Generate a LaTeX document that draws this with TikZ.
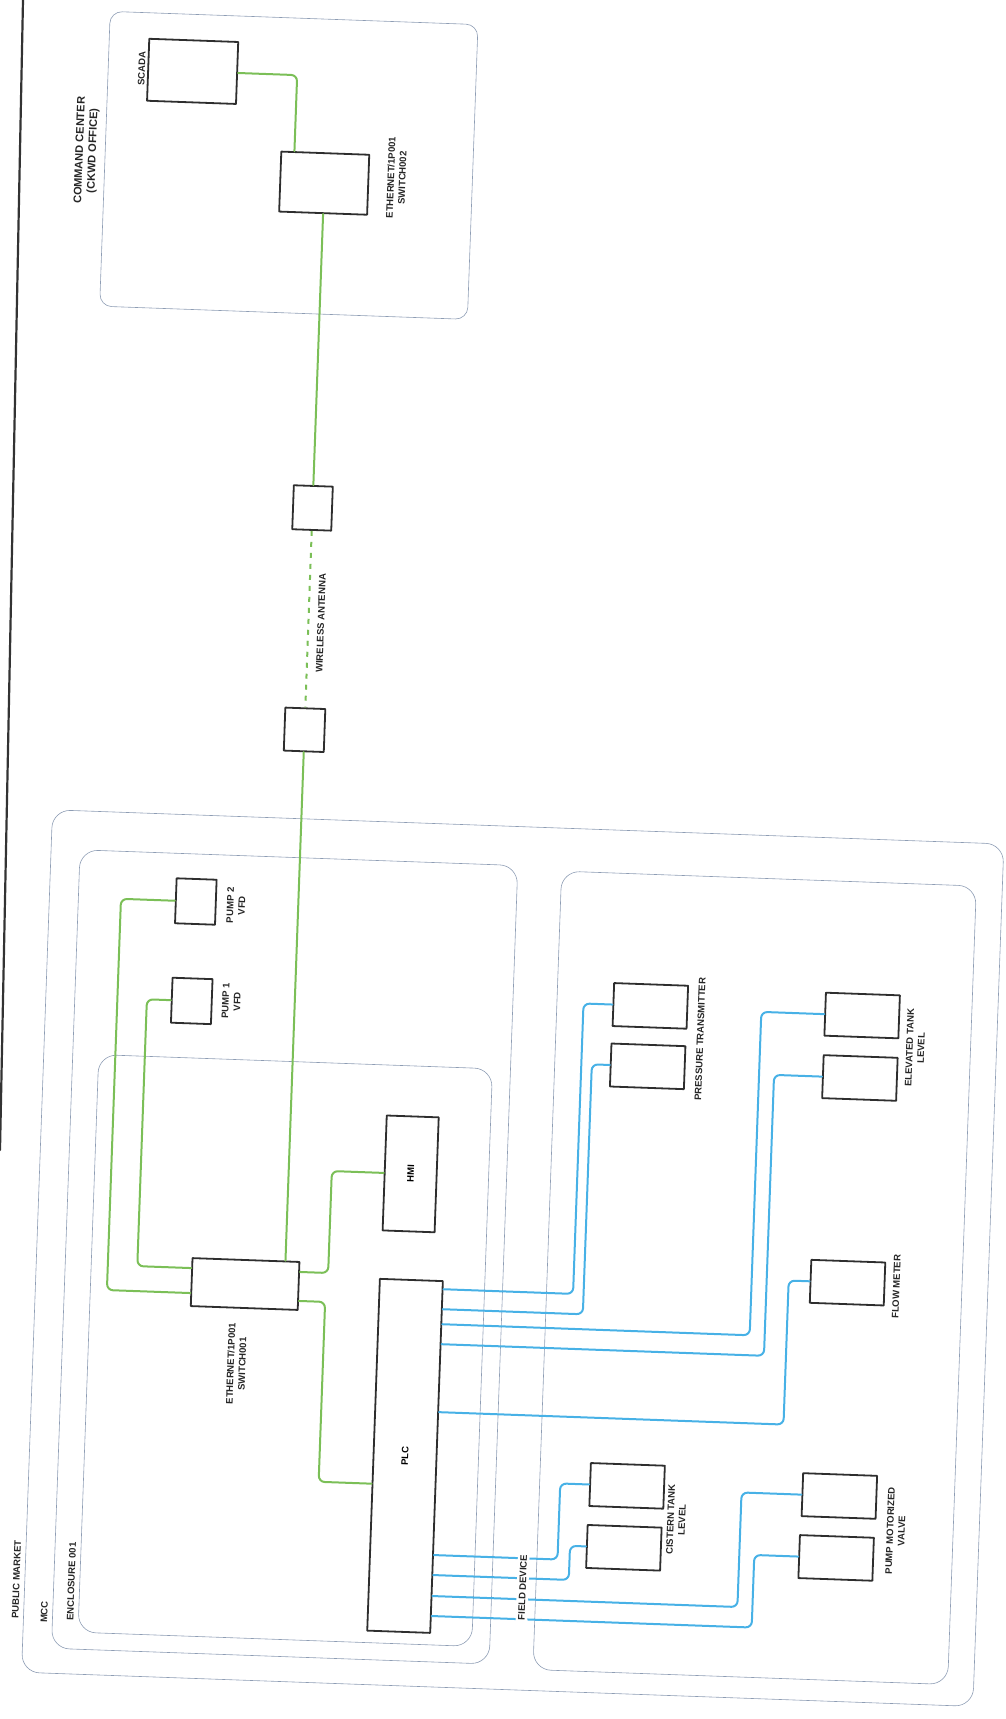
\documentclass[tikz,border=0pt]{standalone}
\usepackage{fontspec}
\setsansfont{Liberation Sans}

\definecolor{devgray}{HTML}{2E2E2E}
\definecolor{zonegray}{HTML}{8E9DB4}
\definecolor{ethgreen}{HTML}{7BBF57}
\definecolor{ioblue}{HTML}{47B1E6}

\begin{document}
\begin{tikzpicture}[x=1pt, y=-1pt, line cap=round, line join=round,
  dev/.style={draw=devgray, line width=1.8pt, minimum width=74pt, minimum height=43pt,
    inner sep=0pt, font=\sffamily\bfseries\fontsize{9.5}{11.5}\selectfont},
  lbl/.style={rotate=90, align=center, inner sep=0pt, text=black!85,
    font=\sffamily\bfseries\fontsize{9.5}{11.5}\selectfont},
  zone/.style={draw=zonegray, line width=0.6pt, rounded corners=18pt},
  eth/.style={draw=ethgreen, line width=2pt, rounded corners=6pt},
  io/.style={draw=ioblue, line width=2pt, rounded corners=6pt}]

  %% ════ 左侧装订线 ════
  \draw[line width=2.2pt, draw=black!80] (23,0) -- (0,1150);

  %% 扫描件整体略有倾斜：整张图绕中心转 -2.06°
  \begin{scope}[transform canvas={rotate around={-2.06:(503,860)}}]

  %% ════ 区域框 ════
  \draw[zone, rounded corners=12pt] (80,26) rectangle (448,321);   % command center
  \draw[zone] (51,826) rectangle (1003,1689);    % public market
  \draw[zone] (80,865) rectangle (518,1664);     % MCC
  \draw[zone] (106,1069) rectangle (500,1647);   % enclosure 001
  \draw[zone] (562,869) rectangle (977,1668);    % field device

  %% ════ 设备 ════
  \node[dev, minimum width=89pt, minimum height=62pt] (scada) at (164.5,83) {};
  \node[dev, minimum width=88pt, minimum height=60pt] (sw2) at (300,190) {};
  \node[dev, minimum width=39pt, minimum height=44pt] (ant1) at (300,515) {};
  \node[dev, minimum width=40pt, minimum height=43pt] (ant2) at (300,737) {};
  \node[dev, minimum width=40pt, minimum height=45pt] (pump2) at (197.5,912.5) {};
  \node[dev, minimum width=40pt, minimum height=45pt] (pump1) at (197,1012) {};
  \node[dev, minimum width=52pt, minimum height=115pt] (hmi) at (422,1177) {\rotatebox{90}{HMI}};
  \node[dev, minimum width=107pt, minimum height=48pt] (sw1) at (260.5,1293) {};
  \node[dev, minimum width=63pt, minimum height=352pt] (plc) at (426.5,1459) {\rotatebox{90}{PLC}};

  \node[dev] (pt1) at (655.5,1000.5) {};
  \node[dev] (pt2) at (655,1061) {};
  \node[dev] (etl1) at (867.5,1002.5) {};
  \node[dev] (etl2) at (867.5,1065) {};
  \node[dev] (fm) at (862.5,1270) {};
  \node[dev] (ctl1) at (649.5,1481) {};
  \node[dev] (ctl2) at (648.5,1543) {};
  \node[dev] (pmv1) at (862,1483.5) {};
  \node[dev] (pmv2) at (861,1545.5) {};

  %% ════ 以太网（绿）════
  \draw[eth] (scada.east) -| ([xshift=14pt]sw2.north west);
  \draw[eth] (sw2.south) -- (ant1.north);
  \draw[eth, dash pattern=on 5pt off 6pt, line cap=butt] (ant1.south) -- (ant2.north);
  \draw[eth] (ant2.south) -- (ant2.south |- sw1.north);
  \draw[eth] (pump2.west) -- ([xshift=-54pt]pump2.west) |- ([yshift=-11pt]sw1.west);
  \draw[eth] (pump1.west) -- ([xshift=-24pt]pump1.west) |- ([yshift=14pt]sw1.west);
  \draw[eth] ([yshift=14pt]sw1.east) -| ([xshift=-52pt]hmi.west) -- (hmi.west);
  \draw[eth] ([yshift=-15pt]sw1.east) -| ([xshift=-53pt,yshift=-29pt]plc.west)
    -- ([yshift=-29pt]plc.west);

  %% ════ 现场信号（蓝）════
  \draw[io] ([yshift=-9pt]plc.north east) -| ([xshift=-29pt]pt1.west) -- (pt1.west);
  \draw[io] ([yshift=-29pt]plc.north east) -| ([xshift=-18pt]pt2.west) -- (pt2.west);
  \draw[io] ([yshift=-44pt]plc.north east) -| ([xshift=-63pt]etl1.west) -- (etl1.west);
  \draw[io] ([yshift=-64pt]plc.north east) -| ([xshift=-48pt]etl2.west) -- (etl2.west);
  \draw[io] ([yshift=-132pt]plc.north east) -| ([xshift=-21pt]fm.west) -- (fm.west);
  \draw[io] ([yshift=-275pt]plc.north east) -| ([xshift=-29pt]ctl1.west) -- (ctl1.west);
  \draw[io] ([yshift=-295pt]plc.north east) -| ([xshift=-16pt]ctl2.west) -- (ctl2.west);
  \draw[io] ([yshift=-316pt]plc.north east) -| ([xshift=-60pt]pmv1.west) -- (pmv1.west);
  \draw[io] ([yshift=-336pt]plc.north east) -| ([xshift=-44pt]pmv2.west) -- (pmv2.west);

  %% ════ 标签 ════
  \node[lbl, font=\sffamily\bfseries\fontsize{11}{13}\selectfont] (cc-lbl) at (61.5,166) {COMMAND CENTER\\(CKWD OFFICE)};
  \node[lbl] (scada-lbl) at (113.6,82) {SCADA};
  \node[lbl] (sw2-lbl) at (372,182) {ETHERNET/1P001\\SWITCH002};
  \node[lbl] (ant-lbl) at (312.5,630) {WIRELESS ANTENNA};
  \node[lbl] (pump2-lbl) at (237.7,915) {PUMP 2\\VFD};
  \node[lbl] (pump1-lbl) at (236.6,1011) {PUMP 1\\VFD};
  \node[lbl] (sw1-lbl) at (254.6,1373) {ETHERNET/1P001\\SWITCH001};
  \node[lbl] (pt-lbl) at (706.4,1032) {PRESSURE TRANSMITTER};
  \node[lbl] (etl-lbl) at (921.8,1033) {ELEVATED TANK\\LEVEL};
  \node[lbl] (fm-lbl) at (911.4,1272.3) {FLOW METER};
  \node[lbl] (ctl-lbl) at (699.8,1513) {CISTERN TANK\\LEVEL};
  \node[lbl] (pmv-lbl) at (919.6,1516.4) {PUMP MOTORIZED\\VALVE};
  \node[lbl] (pm-lbl) at (42.6,1596.5) {PUBLIC MARKET};
  \node[lbl] (mcc-lbl) at (71.6,1628) {MCC};
  \node[lbl] (enc-lbl) at (97.6,1596.6) {ENCLOSURE 001};
  \node[lbl, fill=white, inner sep=2.5pt] (fd-lbl) at (548.7,1586.3) {FIELD DEVICE};

  \end{scope}

  % 钉死画布
  \pgfresetboundingbox
  \path[use as bounding box] (0,0) rectangle (1006,1719);
\end{tikzpicture}
\end{document}
